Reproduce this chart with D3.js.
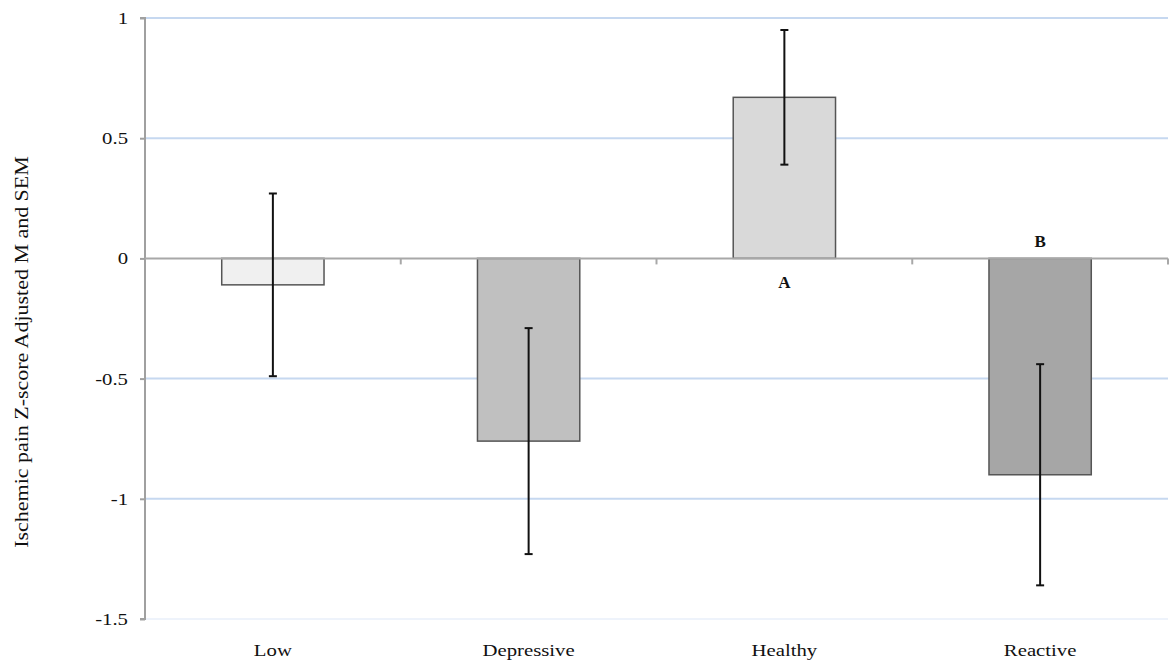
<!DOCTYPE html>
<html>
<head>
<meta charset="utf-8">
<script src="https://cdn.jsdelivr.net/npm/d3@7"></script>
<style>
  html, body { margin: 0; padding: 0; background: #fff; }
  svg { display: block; }
  text { font-family: "Liberation Serif", "DejaVu Serif", serif; fill: #111; }
</style>
</head>
<body>
<svg id="chart" width="1172" height="667"></svg>
<script>
'use strict';

// data
const categories = ['Low', 'Depressive', 'Healthy', 'Reactive'];
const means = [-0.11, -0.76, 0.67, -0.90];
const sems = [0.38, 0.47, 0.28, 0.46];
const fills = ['#f0f0f0', '#c0c0c0', '#d9d9d9', '#a6a6a6'];
const letters = ['', '', 'A', 'B'];
const yTicks = [1, 0.5, 0, -0.5, -1, -1.5];
const yTickLabels = ['1', '0.5', '0', '-0.5', '-1', '-1.5'];

const svg = d3.select('#chart');
const plotL = 145, plotR = 1168, plotT = 18, plotB = 619;

// the source picture is a bit wider than tall, so stretch text horizontally
const stretch = sel => sel.each(function() {
	const w = this.getComputedTextLength();
	d3.select(this).attr('textLength', w * 1.22).attr('lengthAdjust', 'spacingAndGlyphs');
});

const x = d3.scaleBand()
	.domain(categories)
	.range([plotL, plotR])
	.paddingInner(0.6)
	.paddingOuter(0.3);

const y = d3.scaleLinear()
	.domain([-1.5, 1])
	.range([plotB, plotT]);

// gridlines
svg.append('g')
	.selectAll('line')
	.data(yTicks.filter(d => d !== 0))
	.join('line')
	.attr('x1', plotL).attr('x2', plotR)
	.attr('y1', d => y(d)).attr('y2', d => y(d))
	.attr('stroke', d => d === -1.5 ? '#eef3fb' : '#c6d8f0')
	.attr('stroke-width', 2);

// y axis
const yAxis = svg.append('g')
	.attr('transform', `translate(${plotL},0)`)
	.call(d3.axisLeft(y).tickValues(yTicks).tickSize(5).tickPadding(12)
		.tickFormat((d, i) => yTickLabels[i]));
yAxis.select('.domain').attr('stroke', '#a0a0a0').attr('stroke-width', 2)
	.attr('d', `M-5,${y(1)}H0V${y(-1.5)}H-5`);
yAxis.selectAll('.tick line').attr('stroke', '#a0a0a0').attr('stroke-width', 2);
yAxis.selectAll('.tick text')
	.attr('font-size', 17)
	.attr('font-family', '"Liberation Serif", serif')
	.attr('fill', '#111')
	.call(stretch);

// bars
svg.append('g')
	.selectAll('rect')
	.data(categories)
	.join('rect')
	.attr('x', d => x(d))
	.attr('width', x.bandwidth())
	.attr('y', (d, i) => y(Math.max(0, means[i])))
	.attr('height', (d, i) => Math.abs(y(means[i]) - y(0)))
	.attr('fill', (d, i) => fills[i])
	.attr('stroke', '#555')
	.attr('stroke-width', 1.5);

// zero (category) axis
const step = x.step();
const zero = svg.append('g');
zero.append('line')
	.attr('x1', plotL).attr('x2', plotR)
	.attr('y1', y(0)).attr('y2', y(0))
	.attr('stroke', '#a8a8a8').attr('stroke-width', 2);
zero.selectAll('line.tk')
	.data(d3.range(1, categories.length + 1))
	.join('line')
	.attr('class', 'tk')
	.attr('x1', i => plotL + i * step).attr('x2', i => plotL + i * step)
	.attr('y1', y(0)).attr('y2', y(0) + 6)
	.attr('stroke', '#a8a8a8').attr('stroke-width', 2);

// error bars
const eb = svg.append('g').attr('stroke', '#111').attr('stroke-width', 2);
categories.forEach((c, i) => {
	const cx = x(c) + x.bandwidth() / 2;
	const hi = y(means[i] + sems[i]);
	const lo = y(means[i] - sems[i]);
	eb.append('line').attr('x1', cx).attr('x2', cx).attr('y1', hi).attr('y2', lo);
	eb.append('line').attr('x1', cx - 4).attr('x2', cx + 4).attr('y1', hi).attr('y2', hi);
	eb.append('line').attr('x1', cx - 4).attr('x2', cx + 4).attr('y1', lo).attr('y2', lo);
});

// significance letters
svg.append('g')
	.selectAll('text')
	.data(categories)
	.join('text')
	.attr('x', d => x(d) + x.bandwidth() / 2)
	.attr('y', (d, i) => means[i] >= 0 ? y(0) + 30 : y(0) - 11)
	.attr('text-anchor', 'middle')
	.attr('font-size', 17)
	.attr('font-weight', 'bold')
	.text((d, i) => letters[i]);

// category labels
svg.append('g')
	.selectAll('text')
	.data(categories)
	.join('text')
	.attr('x', d => x(d) + x.bandwidth() / 2)
	.attr('y', 656)
	.attr('text-anchor', 'middle')
	.attr('font-size', 17)
	.text(d => d)
	.call(stretch);

// y axis title
svg.append('text')
	.attr('transform', 'translate(28,352) rotate(-90)')
	.attr('text-anchor', 'middle')
	.attr('font-size', 18)
	.text('Ischemic pain Z-score Adjusted M and SEM')
	.call(stretch);
</script>
</body>
</html>
